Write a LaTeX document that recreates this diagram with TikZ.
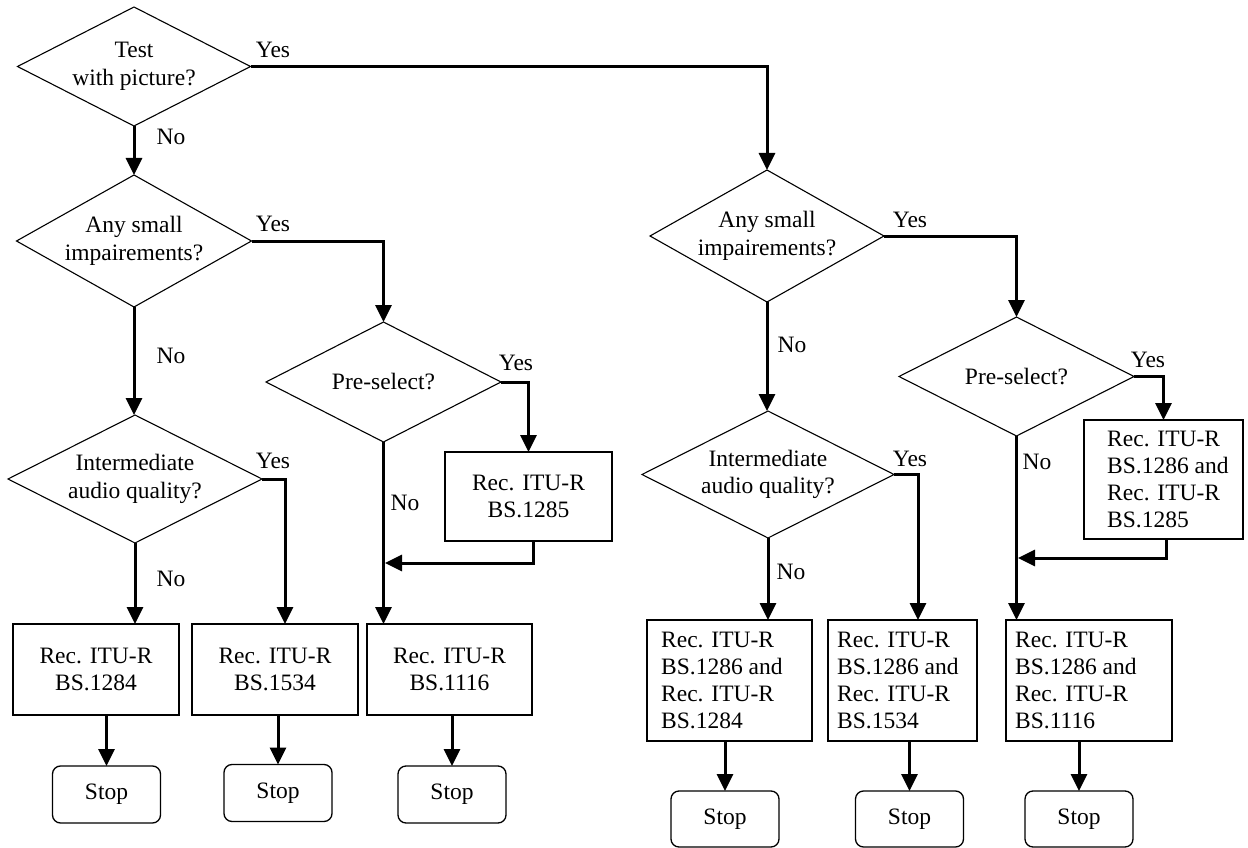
\documentclass[tikz,border=0pt]{standalone}
\usepackage{fontspec}
\setmainfont{Liberation Serif}
\usetikzlibrary{shapes.geometric,arrows.meta}
\begin{document}
\begin{tikzpicture}[x=1pt,y=-1pt,
  txt/.style={font=\fontsize{23.5}{27.5}\selectfont, inner sep=0pt, align=center, anchor=center},
  ltxt/.style={font=\fontsize{23.5}{27}\selectfont, inner sep=0pt, align=left, anchor=west},
  dec/.style={diamond, draw, line width=1.1pt, inner sep=0pt, outer sep=0pt},
  recbox/.style={rectangle, draw, line width=1.2pt, inner sep=0pt, outer sep=0pt},
  stopbox/.style={rectangle, rounded corners=8pt, draw, line width=1.3pt, inner sep=0pt, outer sep=0pt,
     minimum width=108pt, minimum height=57pt, font=\fontsize{23.5}{27.5}\selectfont},
  conn/.style={line width=3pt, -{Triangle[length=17pt,width=16pt]}},
  lab/.style={font=\fontsize{23.5}{27.5}\selectfont, inner sep=0pt}
]
\fill[white] (0,0) rectangle (1248,848);
\useasboundingbox (0,0) rectangle (1248,848);

% ---------- left part ----------
\node[dec, minimum width=233pt, minimum height=119pt, label={[txt]center:{Test\\with picture?}}] (A) at (134,66.5) {};
\node[dec, minimum width=235pt, minimum height=132pt, label={[txt]center:{Any small\\impairements?}}] (B) at (134,241) {};
\node[dec, minimum width=235pt, minimum height=120pt, label={[txt]center:{Pre-select?}}] (C) at (383.5,382) {};
\node[dec, minimum width=254pt, minimum height=128pt, label={[txt]center:{Intermediate\\audio quality?}}] (I) at (135,479) {};

\node[recbox, minimum width=167pt, minimum height=89pt, label={[txt]center:{Rec. ITU-R\\BS.1285}}] (D) at (528.5,496.5) {};
\node[recbox, minimum width=166pt, minimum height=91pt, label={[txt]center:{Rec. ITU-R\\BS.1284}}] (L1) at (96,669.5) {};
\node[recbox, minimum width=166pt, minimum height=91pt, label={[txt]center:{Rec. ITU-R\\BS.1534}}] (L2) at (275,669.5) {};
\node[recbox, minimum width=165pt, minimum height=91pt, label={[txt]center:{Rec. ITU-R\\BS.1116}}] (L3) at (449.5,669.5) {};

\node[stopbox] (S1) at (106.5,794.5) {Stop};
\node[stopbox] (S2) at (278,793) {Stop};
\node[stopbox] (S3) at (452,794.5) {Stop};

% ---------- right part ----------
\node[dec, minimum width=234pt, minimum height=132pt, label={[txt]center:{Any small\\impairements?}}] (RB) at (767,236) {};
\node[dec, minimum width=235pt, minimum height=119pt, label={[txt]center:{Pre-select?}}] (RC) at (1016.5,376.5) {};
\node[dec, minimum width=252pt, minimum height=127pt, label={[txt]center:{Intermediate\\audio quality?}}] (RI) at (768,474.5) {};

\node[recbox, minimum width=159pt, minimum height=119pt,
  label={[ltxt,xshift=23pt]west:{Rec. ITU-R\\BS.1286 and\\Rec. ITU-R\\BS.1285}}] (RT) at (1163.5,479.5) {};
\node[recbox, minimum width=165pt, minimum height=121pt,
  label={[ltxt,xshift=14pt]west:{Rec. ITU-R\\BS.1286 and\\Rec. ITU-R\\BS.1284}}] (R1) at (729.5,680.5) {};
\node[recbox, minimum width=149pt, minimum height=121pt,
  label={[ltxt,xshift=9pt]west:{Rec. ITU-R\\BS.1286 and\\Rec. ITU-R\\BS.1534}}] (R2) at (902.5,680.5) {};
\node[recbox, minimum width=166pt, minimum height=121pt,
  label={[ltxt,xshift=9pt]west:{Rec. ITU-R\\BS.1286 and\\Rec. ITU-R\\BS.1116}}] (R3) at (1089,680.5) {};

\node[stopbox, minimum height=56pt] (RS1) at (725,819) {Stop};
\node[stopbox, minimum height=56pt] (RS2) at (909.5,819) {Stop};
\node[stopbox, minimum height=56pt] (RS3) at (1079,819) {Stop};

% ---------- connectors ----------
\draw[conn] (A.south) -- (A.south |- B.north);
\draw[conn] (A.east) -| (RB.north);
\draw[conn] (B.east) -| (C.north);
\draw[conn] (B.south) -- (B.south |- I.north);
\draw[conn] (I.south) -- (I.south |- L1.north);
\draw[conn] (I.east) -| ([xshift=10pt]L2.north);
\draw[conn] (C.east) -| (D.north);
\draw[conn] (C.south) -- (C.south |- L3.north);
\coordinate (jL) at (385,563);
\draw[conn] ([xshift=4.5pt]D.south) |- (jL);
\draw[conn] (S1.north |- L1.south) -- (S1.north);
\draw[conn] (S2.north |- L2.south) -- (S2.north);
\draw[conn] (S3.north |- L3.south) -- (S3.north);

\draw[conn] (RB.east) -| (RC.north);
\draw[conn] (RB.south) -- (RB.south |- RI.north);
\draw[conn] (RI.south) -- (RI.south |- R1.north);
\draw[conn] (RI.east) -| ([xshift=15.5pt]R2.north);
\draw[conn] (RC.east) -| (RT.north);
\draw[conn] (RC.south) -- (RC.south |- R3.north);
\coordinate (jR) at (1018,558);
\draw[conn] ([xshift=2.5pt]RT.south) |- (jR);
\draw[conn] (RS1.north |- R1.south) -- (RS1.north);
\draw[conn] (RS2.north |- R2.south) -- (RS2.north);
\draw[conn] (RS3.north |- R3.south) -- (RS3.north);

% ---------- labels ----------
\node[lab] (yA) at (273,50) {Yes};
\node[lab] (nA) at (171,137) {No};
\node[lab] (yB) at (273,224) {Yes};
\node[lab] (nB) at (171,356) {No};
\node[lab] (yC) at (516,363) {Yes};
\node[lab] (nC) at (405,503) {No};
\node[lab] (yI) at (273,461) {Yes};
\node[lab] (nI) at (171,579) {No};
\node[lab] (yRB) at (910,220) {Yes};
\node[lab] (nRB) at (792,345) {No};
\node[lab] (yRC) at (1148,360) {Yes};
\node[lab] (nRC) at (1037,462) {No};
\node[lab] (yRI) at (910,459) {Yes};
\node[lab] (nRI) at (791,572) {No};
\end{tikzpicture}
\end{document}
